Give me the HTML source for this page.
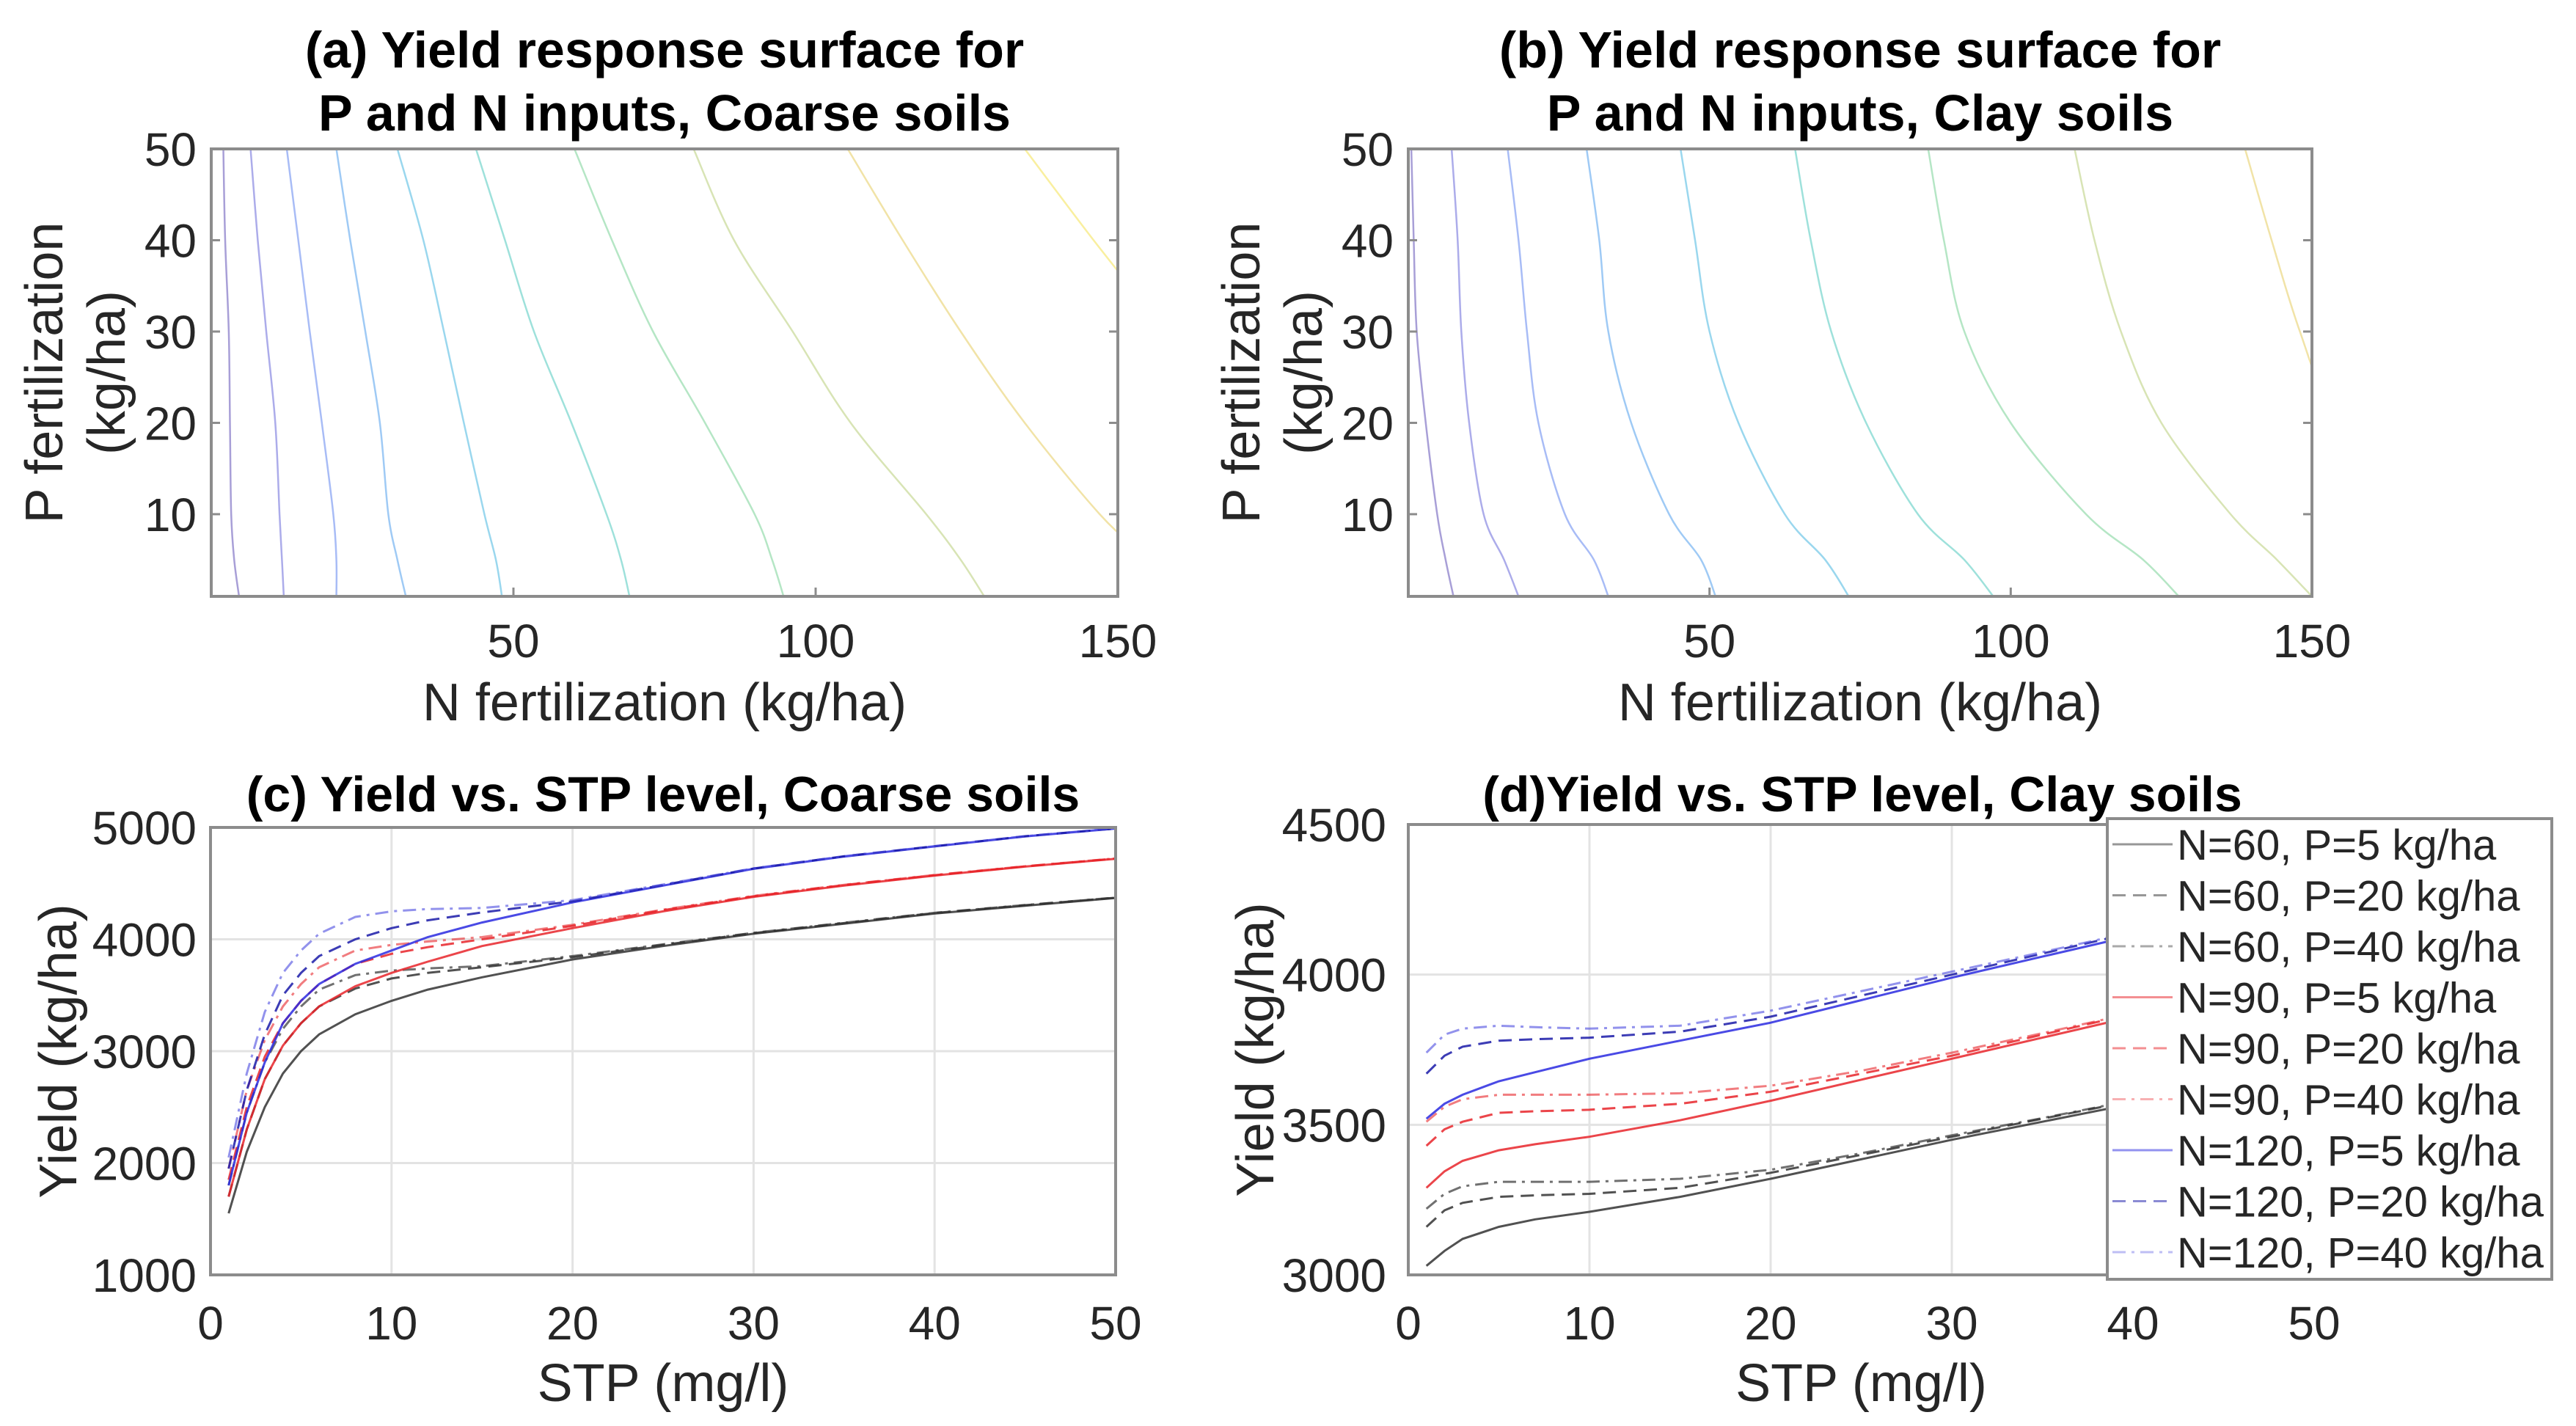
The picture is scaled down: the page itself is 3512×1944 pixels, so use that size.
<!DOCTYPE html>
<html><head><meta charset="utf-8"><style>
html,body{margin:0;padding:0;background:#fff;}
svg{display:block;font-family:"Liberation Sans",sans-serif;}
</style></head><body>
<svg id="fig" width="3512" height="1944" viewBox="0 0 3512 1944" xmlns="http://www.w3.org/2000/svg">
<defs>
<clipPath id="clipA"><rect x="288" y="203" width="1236" height="610"/></clipPath>
<clipPath id="clipB"><rect x="1920" y="203" width="1232" height="610"/></clipPath>
</defs>
</svg>
<script>
// ---- panel a / b contour data (N values at each P level) ----
const contourP = [50,40,30,20,10,5,1];
const contoursA = [
 [2,2.3,2.9,3.1,3.3,3.8,4.6],
 [6.5,7.7,9.1,10.6,11.3,11.7,12],
 [12.5,14.4,16.3,18.3,20.2,20.7,20.7],
 [20.7,23,25.5,27.9,29.3,30.8,32.2],
 [30.8,35.1,38.5,41.8,45.2,47.1,48.1],
 [43.8,48.6,53.4,59.6,65.4,67.8,69.2],
 [60.1,66.3,73.1,81.7,89.9,92.8,94.7],
 [79.8,86.5,96.2,105.8,118.3,124,127.9],
 [105.3,114.4,124,134.6,147,155,160],
 [134.6,146,158,170,185,190,195]
];
const contoursB = [
 [0.5,0.9,1.4,2.9,4.8,6.2,7.5],
 [7.2,8.2,8.8,10.1,12.5,15.9,18.3],
 [16.5,18.3,19.7,21.6,26,30.8,33.2],
 [29.6,31.7,33.2,37,43.3,48.6,51],
 [45.2,47.6,50,54.8,62.5,69.2,73.1],
 [64.2,66.8,70.2,76,84.6,92.3,97.1],
 [86.3,88.9,92.3,100,112.5,122,127.9],
 [110.6,113.9,118.3,125,136.5,144.2,150],
 [138.9,143.3,148,154,165,172,178]
];
const contourColors = ['#3d2aa6','#4647d0','#3d6bec','#2a8ae8','#1fa6d9','#27bdb0','#5cc87f','#a9c45a','#e1c03b','#f2dc2a'];
const xTicksAB = [50,100,150];
const yTicksAB = [10,20,30,40,50];

// ---- panel c data ----
const stpC = [1,2,3,4,5,6,8,10,12,15,20,25,30,35,40,45,50];
const n60p5C = [1550,2100,2500,2800,3000,3150,3330,3450,3550,3660,3820,3940,4050,4140,4230,4300,4370];
const n60p20C = [1700,2300,2750,3050,3250,3400,3560,3650,3700,3750,3840,3950,4055,4145,4235,4305,4372];
const n60p40C = [1800,2450,2900,3200,3400,3550,3680,3720,3740,3760,3850,3955,4058,4148,4237,4306,4373];
const n90p5C = [1700,2300,2750,3050,3250,3400,3580,3700,3800,3940,4100,4250,4380,4480,4570,4650,4720];
const n90p20C = [1850,2500,2950,3250,3450,3600,3780,3870,3930,4000,4120,4260,4385,4485,4573,4652,4722];
const n90p40C = [1950,2650,3100,3400,3600,3750,3900,3950,3980,4020,4130,4265,4388,4487,4575,4653,4723];
const n120p5C = [1800,2450,2900,3250,3450,3600,3780,3900,4020,4150,4330,4480,4630,4740,4830,4920,4990];
const n120p20C = [1950,2650,3150,3500,3700,3850,4000,4100,4170,4240,4340,4485,4633,4742,4832,4921,4991];
const n120p40C = [2050,2800,3350,3700,3900,4050,4200,4250,4270,4280,4350,4490,4635,4743,4833,4922,4992];
const yTicksC = [1000,2000,3000,4000,5000];
const xTicksCD = [0,10,20,30,40,50];

// ---- panel d data ----
const stpD = [1,2,3,5,7,10,15,20,25,30,35,40];
const n60p5D = [3030,3080,3120,3160,3185,3210,3260,3320,3385,3450,3510,3570];
const n60p20D = [3160,3215,3240,3260,3265,3270,3290,3340,3400,3460,3520,3580];
const n60p40D = [3220,3270,3295,3310,3310,3310,3320,3350,3405,3465,3522,3582];
const n90p5D = [3290,3345,3380,3415,3435,3460,3515,3580,3650,3720,3790,3860];
const n90p20D = [3430,3485,3510,3540,3545,3550,3570,3610,3670,3730,3800,3870];
const n90p40D = [3510,3560,3585,3600,3600,3600,3605,3630,3680,3740,3805,3872];
const n120p5D = [3520,3570,3600,3645,3675,3720,3780,3840,3915,3990,4060,4130];
const n120p20D = [3670,3730,3760,3780,3785,3790,3810,3860,3930,4000,4070,4140];
const n120p40D = [3740,3800,3820,3830,3825,3820,3830,3880,3945,4010,4075,4142];
const yTicksD = [3000,3500,4000,4500];
const legendLabels = ['N=60, P=5 kg/ha','N=60, P=20 kg/ha','N=60, P=40 kg/ha','N=90, P=5 kg/ha','N=90, P=20 kg/ha','N=90, P=40 kg/ha','N=120, P=5 kg/ha','N=120, P=20 kg/ha','N=120, P=40 kg/ha'];

const NS='http://www.w3.org/2000/svg';
const svg=document.getElementById('fig');
function mk(tag,attrs,parent){const e=document.createElementNS(NS,tag);for(const k in attrs)e.setAttribute(k,attrs[k]);(parent||svg).appendChild(e);return e;}
function scale(d0,d1,r0,r1){return v=>r0+(v-d0)/(d1-d0)*(r1-r0);}
function txt(x,y,s,size,anchor,weight,fill,rot){const t=mk('text',{x:x,y:y,'font-size':size,'text-anchor':anchor,'font-weight':weight||'normal',fill:fill||'#262626'});if(rot)t.setAttribute('transform','rotate(-90 '+x+' '+y+')');t.textContent=s;return t;}
function smooth(pts){
 let d='M'+pts[0][0].toFixed(1)+' '+pts[0][1].toFixed(1);
 for(let i=0;i<pts.length-1;i++){
  const p0=pts[Math.max(0,i-1)],p1=pts[i],p2=pts[i+1],p3=pts[Math.min(pts.length-1,i+2)];
  const c1=[p1[0]+(p2[0]-p0[0])/6,p1[1]+(p2[1]-p0[1])/6];
  const c2=[p2[0]-(p3[0]-p1[0])/6,p2[1]-(p3[1]-p1[1])/6];
  d+=' C'+c1[0].toFixed(1)+' '+c1[1].toFixed(1)+' '+c2[0].toFixed(1)+' '+c2[1].toFixed(1)+' '+p2[0].toFixed(1)+' '+p2[1].toFixed(1);
 }
 return d;
}

const seriesStyle=[
 {c:'#333',d:'',o:0.85},{c:'#333',d:'18 10',o:0.85},{c:'#333',d:'18 8 4 8',o:0.7},
 {c:'#e8242a',d:'',o:0.85},{c:'#e8242a',d:'18 10',o:0.85},{c:'#e8242a',d:'18 8 4 8',o:0.6},
 {c:'#2a2ae0',d:'',o:0.85},{c:'#1a1aa8',d:'18 10',o:0.85},{c:'#4a4ae0',d:'18 8 4 8',o:0.6}
];

// ===== Panels a & b =====
function contourPanel(L,R,T,B,contours,clip,title1,title2,nm){
 const x=scale(0,150,L,R), y=scale(1,50,B,T);
 const g=mk('g',{});
 
 
 const cg=mk('g',{'clip-path':'url(#'+clip+')'},g);
 contours.forEach((c,i)=>{
  const pts=c.map((n,j)=>[x(n),y(contourP[j])]);
  const p=mk('path',{d:smooth(pts),fill:'none',stroke:contourColors[i],'stroke-width':2.5,'stroke-opacity':0.45},cg);
  
  
 });
 const box=mk('rect',{x:L,y:T,width:R-L,height:B-T,fill:'none',stroke:'#8c8c8c','stroke-width':4},g);
 
 
 xTicksAB.forEach(v=>{mk('line',{x1:x(v),x2:x(v),y1:B,y2:B-12,stroke:'#8c8c8c','stroke-width':3},g);
  const t=txt(x(v),896,String(v),64,'middle');});
 yTicksAB.forEach(v=>{mk('line',{x1:L,x2:L+12,y1:y(v),y2:y(v),stroke:'#8c8c8c','stroke-width':3},g);mk('line',{x1:R,x2:R-12,y1:y(v),y2:y(v),stroke:'#8c8c8c','stroke-width':3},g);
  const t=txt(L-20,y(v)+23,String(v),64,'end');});
 const cx=(L+R)/2;
 let t=txt(cx,982,'N fertilization (kg/ha)',72,'middle');
 t=txt(L-203,508,'P fertilization',72,'middle','normal','#262626',true);
 t=txt(L-118,508,'(kg/ha)',72,'middle','normal','#262626',true);
 t=txt(cx,92,title1,70,'middle','bold','#000');
 t=txt(cx,178,title2,70,'middle','bold','#000');
}
contourPanel(288,1524,203,813,contoursA,'clipA','(a) Yield response surface for','P and N inputs, Coarse soils','panel-a');
contourPanel(1920,3152,203,813,contoursB,'clipB','(b) Yield response surface for','P and N inputs, Clay soils','panel-b');

// ===== Panels c & d =====
function linePanel(L,R,T,B,xs,series,yTicks,y0,y1,title,titleX,nm,ylabX,tickEnd){
 const x=scale(0,50,L,R), y=scale(y0,y1,B,T);
 const g=mk('g',{});
 
 
 xTicksCD.forEach(v=>{const l=mk('line',{x1:x(v),x2:x(v),y1:T,y2:B,stroke:'#e3e3e3','stroke-width':3},g);});
 yTicks.forEach(v=>{const l=mk('line',{x1:L,x2:R,y1:y(v),y2:y(v),stroke:'#e3e3e3','stroke-width':3},g);});
 series.forEach((s,i)=>{
  const st=seriesStyle[i];
  const d=s.map((v,j)=>(j?'L':'M')+x(xs[j]).toFixed(1)+' '+y(v).toFixed(1)).join(' ');
  const p=mk('path',{d:d,fill:'none',stroke:st.c,'stroke-width':3,'stroke-opacity':st.o,'stroke-dasharray':st.d},g);
  
  
 });
 const box=mk('rect',{x:L,y:T,width:R-L,height:B-T,fill:'none',stroke:'#8c8c8c','stroke-width':4},g);
 
 
 xTicksCD.forEach(v=>{const t=txt(x(v),1826,String(v),64,'middle');});
 yTicks.forEach(v=>{const t=txt(tickEnd,y(v)+23,String(v),64,'end');});
 let t=txt((L+R)/2,1910,'STP (mg/l)',72,'middle');
 t=txt(ylabX,(T+B)/2,'Yield (kg/ha)',72,'middle','normal','#262626',true);
 t=txt(titleX,1106,title,68,'middle','bold','#000');
 return {x,y,g};
}
linePanel(287,1521,1128,1738,stpC,[n60p5C,n60p20C,n60p40C,n90p5C,n90p20C,n90p40C,n120p5C,n120p20C,n120p40C],yTicksC,1000,5000,'(c) Yield vs. STP level, Coarse soils',904,'panel-c',104,268);
linePanel(1920,3155,1124,1738,stpD,[n60p5D,n60p20D,n60p40D,n90p5D,n90p20D,n90p40D,n120p5D,n120p20D,n120p40D],yTicksD,3000,4500,'(d)Yield vs. STP level, Clay soils',2539,'panel-d',1736,1890);

// legend
const lg=mk('g',{});


const lb=mk('rect',{x:2873,y:1116,width:606,height:628,fill:'#fff',stroke:'#8c8c8c','stroke-width':4},lg);


legendLabels.forEach((s,i)=>{
 const cy=1116+35+i*69.5;
 const st=seriesStyle[i];
 const l=mk('line',{x1:2880,x2:2962,y1:cy,y2:cy,stroke:st.c,'stroke-width':3,'stroke-opacity':st.o*0.6,'stroke-dasharray':st.d},lg);
 
 
 const t=txt(2968,cy+21,s,58,'start');
 
 
 lg.appendChild(t);
});
</script>
</body></html>
